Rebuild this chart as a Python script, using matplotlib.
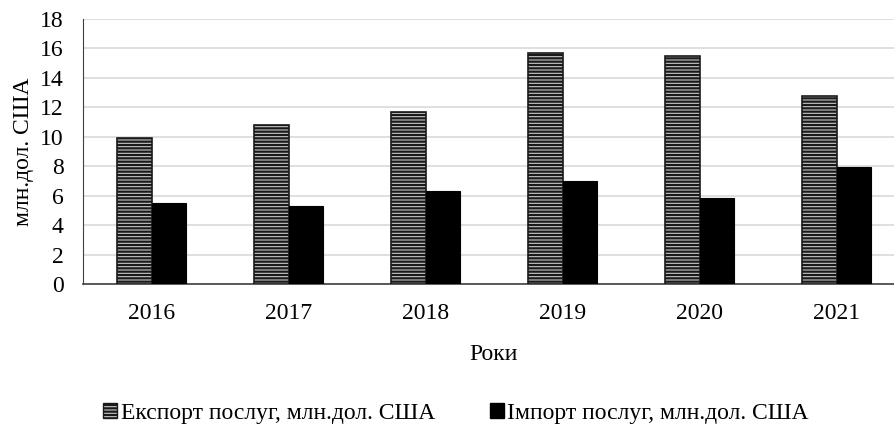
import matplotlib
matplotlib.use("Agg")
import matplotlib.pyplot as plt
import numpy as np
from matplotlib.patches import Patch

plt.rcParams['font.family'] = ['Liberation Serif', 'DejaVu Serif']
plt.rcParams['hatch.linewidth'] = 1.6
plt.rcParams['hatch.color'] = '#1a1a1a'

years = ['2016', '2017', '2018', '2019', '2020', '2021']
export_vals = [9.9, 10.8, 11.7, 15.7, 15.5, 12.8]
import_vals = [5.5, 5.3, 6.3, 7.0, 5.85, 7.95]
export_label = 'Експорт послуг, млн.дол. США'
import_label = 'Імпорт послуг, млн.дол. США'

FS = 17

fig = plt.figure(figsize=(8.95, 4.28), dpi=100)
# axes extends slightly beyond right edge (cropped reference)
ax = fig.add_axes([83/895, 1-284/428, 822/895, 265/428])

x = np.arange(len(years))
w = 0.25
ax.bar(x - w/2, export_vals, w, facecolor='#c8c8c8', edgecolor='#1a1a1a',
       hatch='-----', linewidth=1.2, label=export_label, zorder=3)
ax.bar(x + w/2, import_vals, w, facecolor='black', edgecolor='black',
       linewidth=0.8, label=import_label, zorder=3)

ax.set_ylim(0, 18)
ax.set_yticks(range(0, 19, 2))
ax.set_xlim(-0.5, len(years) - 0.5)
ax.set_xticks(x)
ax.set_xticklabels(years)
ax.yaxis.grid(True, color='#d9d9d9', linewidth=1.2, zorder=0)
ax.set_axisbelow(True)
for s in ['top', 'right']:
    ax.spines[s].set_visible(False)
ax.spines['left'].set_color('#404040')
ax.spines['bottom'].set_color('#404040')
ax.spines['bottom'].set_linewidth(1.2)
ax.tick_params(axis='both', length=0, labelsize=FS, colors='black')
ax.tick_params(axis='x', pad=14)
ax.tick_params(axis='y', pad=14)
ax.set_ylabel('млн.дол. США', fontsize=FS, labelpad=4)
ax.set_xlabel('Роки', fontsize=FS, labelpad=14)

handles = [Patch(facecolor='#c8c8c8', edgecolor='#1a1a1a', hatch='-----', label=export_label),
           Patch(facecolor='black', edgecolor='black', label=import_label)]
fig.legend(handles=handles, loc='center', bbox_to_anchor=(456/895, 1-413/428), ncol=2,
           frameon=False, fontsize=FS, handlelength=0.6, handleheight=0.6,
           handletextpad=0.15, columnspacing=2.3)

fig.savefig('out.png', dpi=100)
